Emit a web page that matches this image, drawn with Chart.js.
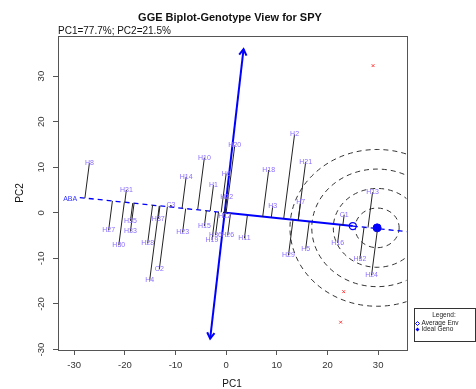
<!DOCTYPE html>
<html>
<head>
<meta charset="utf-8">
<script src="https://cdn.jsdelivr.net/npm/chart.js@4.4.1/dist/chart.umd.min.js"></script>
<style>
  body { margin: 0; background: #fff; }
  canvas { display: block; }
</style>
</head>
<body>
<canvas id="myChart" width="476" height="389"></canvas>
<script>
// genotype scores (PC1, PC2)
const genoNames = ['H8','H31','H30','H27','H35','H33','H28','H37','H4','C2','C3','H14','H23','H20','H10','H6','H1','H22','H12','H15','H36','H26','H19','H11','H18','H3','H2','H21','H7','H29','H5','C1','H16','H13','H32','H24'];
const genoX = [-27.0,-19.7,-21.2,-23.2,-18.9,-18.9,-15.5,-13.4,-15.1,-13.2,-10.9,-7.9,-8.6,1.7,-4.3,0.0,-2.5,0.1,-0.3,-4.3,-2.1,0.3,-2.8,3.6,8.4,9.2,13.5,15.7,14.7,12.3,15.7,23.3,22.0,28.9,26.4,28.7];
const genoY = [10.9,5.0,-7.1,-3.8,-1.8,-4.1,-6.7,-1.3,-14.8,-12.4,1.7,7.9,-4.3,14.8,12.1,8.6,6.1,3.4,-0.7,-2.9,-4.9,-4.9,-6.0,-5.6,9.4,1.5,17.2,11.2,2.4,-9.3,-7.9,-0.4,-6.6,4.5,-10.2,-13.7];

// environment axis
const abaLabel = 'ABA';
const abaPoint = [-30.8, 3.0];
const atcLeft = [-28.9, 3.35];
const avgEnv = [25.0, -2.9];
const atcRight = [36.5, -4.23];
const idealGeno = [29.8, -3.3];
const ordTop = [3.43, 35.9];
const ordBottom = [-3.16, -27.6];
const circleRadii = [4.35, 8.65, 12.9, 17.2];
const redX = [29.0, 23.2, 22.6];
const redY = [32.3, -17.3, -24.0];

const xTicks = [-30, -20, -10, 0, 10, 20, 30];
const yTicks = [-30, -20, -10, 0, 10, 20, 30];
const xRange = [-33.2, 35.6];
const yRange = [-30.1, 38.8];

const FONT = '"Liberation Sans", Arial, sans-serif';
const LABEL_COL = '#8a6cff';
const BLUE = '#0000ff';

// foot of each genotype on the average-environment axis
const ux = avgEnv[0] / Math.hypot(avgEnv[0], avgEnv[1]);
const uy = avgEnv[1] / Math.hypot(avgEnv[0], avgEnv[1]);

const datasets = [];
genoNames.forEach((n, i) => {
    const d = genoX[i] * ux + genoY[i] * uy;
    datasets.push({
        data: [{x: genoX[i], y: genoY[i]}, {x: d * ux, y: d * uy}],
        showLine: true, borderColor: '#222', borderWidth: 1, pointRadius: 0
    });
});
datasets.push({
    data: [{x: atcLeft[0], y: atcLeft[1]}, {x: 0, y: 0}],
    showLine: true, borderColor: BLUE, borderWidth: 1.3, borderDash: [5, 4], pointRadius: 0
});
datasets.push({
    data: [{x: avgEnv[0], y: avgEnv[1]}, {x: atcRight[0], y: atcRight[1]}],
    showLine: true, borderColor: BLUE, borderWidth: 1.3, borderDash: [5, 4], pointRadius: 0
});
datasets.push({
    data: [{x: 0, y: 0}, {x: avgEnv[0], y: avgEnv[1]}],
    showLine: true, borderColor: BLUE, borderWidth: 2, pointRadius: 0
});
datasets.push({
    data: [{x: ordBottom[0], y: ordBottom[1]}, {x: ordTop[0], y: ordTop[1]}],
    showLine: true, borderColor: BLUE, borderWidth: 2, pointRadius: 0
});
datasets.push({
    data: [{x: avgEnv[0], y: avgEnv[1]}],
    pointRadius: 3.5, pointBorderColor: BLUE, pointBackgroundColor: '#fff', pointBorderWidth: 1.3
});
datasets.push({
    data: [{x: idealGeno[0], y: idealGeno[1]}],
    pointRadius: 4, pointBorderColor: BLUE, pointBackgroundColor: BLUE
});
datasets.push({
    data: redX.map((v, i) => ({x: v, y: redY[i]})),
    pointStyle: 'crossRot', pointRadius: 2, pointBorderColor: '#ff4040', pointBorderWidth: 1
});

function arrowHead(ctx, fx, fy, tx, ty) {
    const ang = Math.atan2(ty - fy, tx - fx);
    const len = 7, spread = 0.55;
    ctx.beginPath();
    ctx.moveTo(tx - len * Math.cos(ang - spread), ty - len * Math.sin(ang - spread));
    ctx.lineTo(tx, ty);
    ctx.lineTo(tx - len * Math.cos(ang + spread), ty - len * Math.sin(ang + spread));
    ctx.stroke();
}

const overlay = {
    id: 'overlay',
    beforeDatasetsDraw(chart) {
        const {ctx, chartArea: a, scales: {x, y}} = chart;
        ctx.save();
        ctx.beginPath();
        ctx.rect(a.left, a.top, a.right - a.left, a.bottom - a.top);
        ctx.clip();
        ctx.setLineDash([5, 4]);
        ctx.strokeStyle = '#333';
        ctx.lineWidth = 1;
        const cx = x.getPixelForValue(idealGeno[0]), cy = y.getPixelForValue(idealGeno[1]);
        const sx = x.getPixelForValue(1) - x.getPixelForValue(0);
        const sy = y.getPixelForValue(0) - y.getPixelForValue(1);
        circleRadii.forEach(r => {
            ctx.beginPath();
            ctx.ellipse(cx, cy, r * sx, r * sy, 0, 0, 2 * Math.PI);
            ctx.stroke();
        });
        ctx.restore();
    },
    afterDraw(chart) {
        const {ctx, chartArea: a, scales: {x, y}} = chart;
        ctx.save();
        // arrows on the ordinate
        ctx.strokeStyle = BLUE;
        ctx.lineWidth = 2;
        const bx = x.getPixelForValue(ordBottom[0]), by = y.getPixelForValue(ordBottom[1]);
        const tx = x.getPixelForValue(ordTop[0]), ty = y.getPixelForValue(ordTop[1]);
        arrowHead(ctx, bx, by, tx, ty);
        arrowHead(ctx, tx, ty, bx, by);

        // labels
        ctx.font = '7px ' + FONT;
        ctx.textAlign = 'center';
        ctx.textBaseline = 'middle';
        ctx.fillStyle = LABEL_COL;
        genoNames.forEach((n, i) => {
            ctx.fillText(n, x.getPixelForValue(genoX[i]), y.getPixelForValue(genoY[i]));
        });
        ctx.fillStyle = '#3030ff';
        ctx.fillText(abaLabel, x.getPixelForValue(abaPoint[0]), y.getPixelForValue(abaPoint[1]));

        // box
        ctx.strokeStyle = '#555';
        ctx.lineWidth = 1;
        ctx.strokeRect(Math.round(a.left) + 0.5, Math.round(a.top) + 0.5, Math.round(a.right - a.left), Math.round(a.bottom - a.top));

        // y tick labels (vertical)
        ctx.fillStyle = '#333';
        ctx.font = '9.5px ' + FONT;
        yTicks.forEach(v => {
            ctx.save();
            ctx.translate(41.5, y.getPixelForValue(v));
            ctx.rotate(-Math.PI / 2);
            ctx.fillText(String(v), 0, 0);
            ctx.restore();
        });

        // titles
        ctx.fillStyle = '#111';
        ctx.font = 'bold 11px ' + FONT;
        ctx.textBaseline = 'alphabetic';
        ctx.fillText('GGE Biplot-Genotype View for SPY', 230, 20.5);
        ctx.font = '10px ' + FONT;
        ctx.textAlign = 'left';
        ctx.fillText('PC1=77.7%; PC2=21.5%', 58, 33.5);
        ctx.textAlign = 'center';
        ctx.textBaseline = 'middle';
        ctx.fillText('PC1', 232, 384);
        ctx.save();
        ctx.translate(20, 193);
        ctx.rotate(-Math.PI / 2);
        ctx.fillText('PC2', 0, 0);
        ctx.restore();

        // legend
        ctx.strokeStyle = '#333';
        ctx.strokeRect(414.5, 308.5, 61, 33);
        ctx.font = '6.5px ' + FONT;
        ctx.fillStyle = '#222';
        ctx.fillText('Legend:', 444, 315);
        ctx.textAlign = 'left';
        ctx.fillText('Average Env', 421.5, 323.5);
        ctx.fillText('Ideal Geno', 421.5, 329.5);
        ctx.strokeStyle = BLUE;
        ctx.fillStyle = BLUE;
        ctx.lineWidth = 1;
        ctx.beginPath();
        ctx.moveTo(417.5, 321.5); ctx.lineTo(419.5, 323.5); ctx.lineTo(417.5, 325.5); ctx.lineTo(415.5, 323.5); ctx.closePath();
        ctx.stroke();
        ctx.beginPath();
        ctx.moveTo(417.5, 327.5); ctx.lineTo(419.5, 329.5); ctx.lineTo(417.5, 331.5); ctx.lineTo(415.5, 329.5); ctx.closePath();
        ctx.fill();
        ctx.restore();
    }
};

const ctx = document.getElementById('myChart').getContext('2d');
new Chart(ctx, {
    type: 'scatter',
    data: {datasets},
    options: {
        responsive: false,
        animation: false,
        layout: {padding: {top: 36, right: 69.5, left: 0, bottom: 0}},
        plugins: {legend: {display: false}, tooltip: {enabled: false}},
        scales: {
            x: {
                type: 'linear', min: xRange[0], max: xRange[1],
                afterBuildTicks: s => { s.ticks = xTicks.map(v => ({value: v})); },
                afterFit: s => { s.height = 39; },
                grid: {drawOnChartArea: false, tickLength: 5, color: '#555'},
                border: {display: false},
                ticks: {font: {size: 9.5, family: FONT}, color: '#333', padding: 5, maxRotation: 0}
            },
            y: {
                type: 'linear', min: yRange[0], max: yRange[1],
                afterBuildTicks: s => { s.ticks = yTicks.map(v => ({value: v})); },
                afterFit: s => { s.width = 58; },
                grid: {drawOnChartArea: false, tickLength: 5, color: '#555'},
                border: {display: false},
                ticks: {display: false}
            }
        }
    },
    plugins: [overlay]
});
</script>
</body>
</html>
